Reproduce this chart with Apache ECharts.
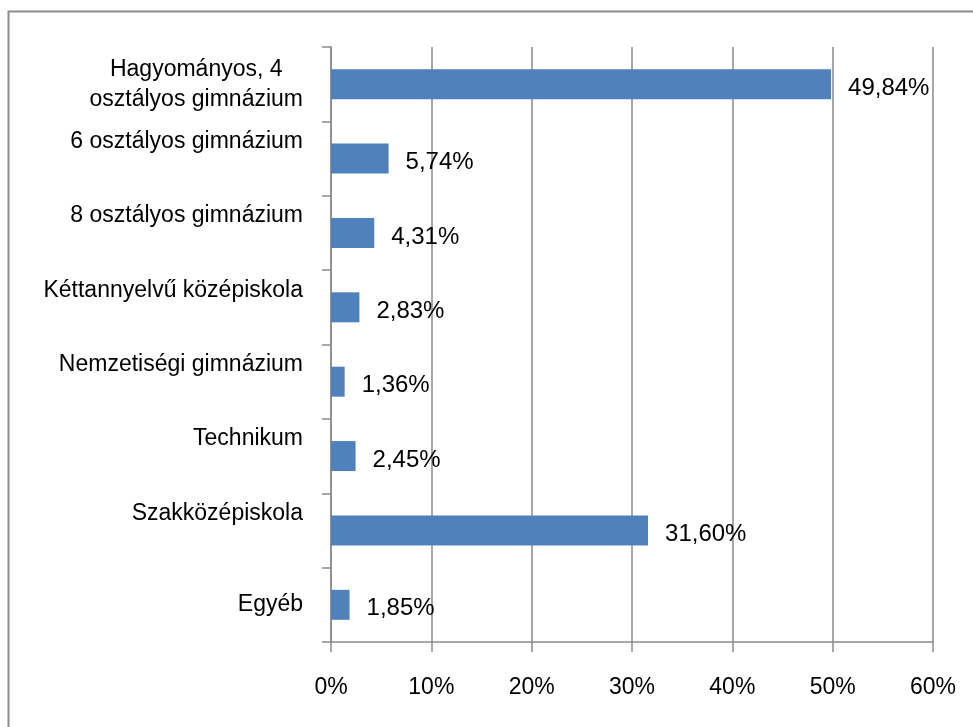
<!DOCTYPE html>
<html>
<head>
<meta charset="utf-8">
<script src="https://cdn.jsdelivr.net/npm/echarts@6/dist/echarts.min.js"></script>
<style>
  html, body { margin: 0; padding: 0; background: #fff; }
  #chart { width: 973px; height: 727px; }
</style>
</head>
<body>
<div id="chart"></div>
<script>
// kategóriák és értékek (%)
const categories = [
  'Hagyományos, 4\nosztályos gimnázium',
  '6 osztályos gimnázium',
  '8 osztályos gimnázium',
  'Kéttannyelvű középiskola',
  'Nemzetiségi gimnázium',
  'Technikum',
  'Szakközépiskola',
  'Egyéb'
];
const shares = [49.84, 5.74, 4.31, 2.83, 1.36, 2.45, 31.60, 1.85];
const xTicks = [0, 10, 20, 30, 40, 50, 60];

const FONT = '"Liberation Sans", Arial, sans-serif';
const GRID_COLOR = '#8a8a8a';

const chart = echarts.init(document.getElementById('chart'));

chart.setOption({
  animation: false,
  backgroundColor: '#fff',
  graphic: [
    {
      type: 'rect',
      shape: { x: 8.5, y: 11.5, width: 1000, height: 760 },
      style: { fill: 'none', stroke: '#8c8c8c', lineWidth: 2 },
      silent: true
    }
  ],
  grid: { left: 331, right: 40, top: 47, bottom: 85 },
  xAxis: {
    type: 'value',
    min: xTicks[0],
    max: xTicks[xTicks.length - 1],
    interval: 10,
    axisLine: { show: true, lineStyle: { color: GRID_COLOR, width: 1.5 } },
    axisTick: { show: true, length: 10, lineStyle: { color: GRID_COLOR, width: 1.5 } },
    splitLine: { show: true, lineStyle: { color: GRID_COLOR, width: 1.5 } },
    axisLabel: {
      margin: 34,
      color: '#000',
      fontSize: 23,
      fontFamily: FONT,
      formatter: '{value}%'
    }
  },
  yAxis: {
    type: 'category',
    inverse: true,
    data: categories,
    axisLine: { show: true, lineStyle: { color: GRID_COLOR, width: 1.5 } },
    axisTick: { show: true, length: 9, lineStyle: { color: GRID_COLOR, width: 1.5 } },
    axisLabel: {
      margin: 28,
      color: '#000',
      fontSize: 23,
      fontFamily: FONT,
      formatter: (value, idx) => {
        if (value.indexOf('\n') >= 0) {
          return value.split('\n').map(s => '{c|' + s + '}').join('\n');
        }
        if (idx === categories.length - 1) return '{n|' + value + '}';
        return '{u|' + value + '}';
      },
      rich: {
        c: { align: 'center', fontSize: 23, fontFamily: FONT, lineHeight: 30, color: '#000' },
        u: { fontSize: 23, fontFamily: FONT, lineHeight: 26, padding: [0, 0, 34, 0], color: '#000' },
        n: { fontSize: 23, fontFamily: FONT, lineHeight: 26, color: '#000' }
      }
    }
  },
  series: [
    {
      type: 'bar',
      data: shares,
      barWidth: 30,
      itemStyle: { color: '#4f81bd' },
      label: {
        show: true,
        position: 'right',
        distance: 17,
        offset: [0, 4],
        color: '#000',
        fontSize: 24,
        fontFamily: FONT,
        formatter: p => p.value.toFixed(2).replace('.', ',') + '%'
      }
    }
  ]
});
</script>
</body>
</html>
